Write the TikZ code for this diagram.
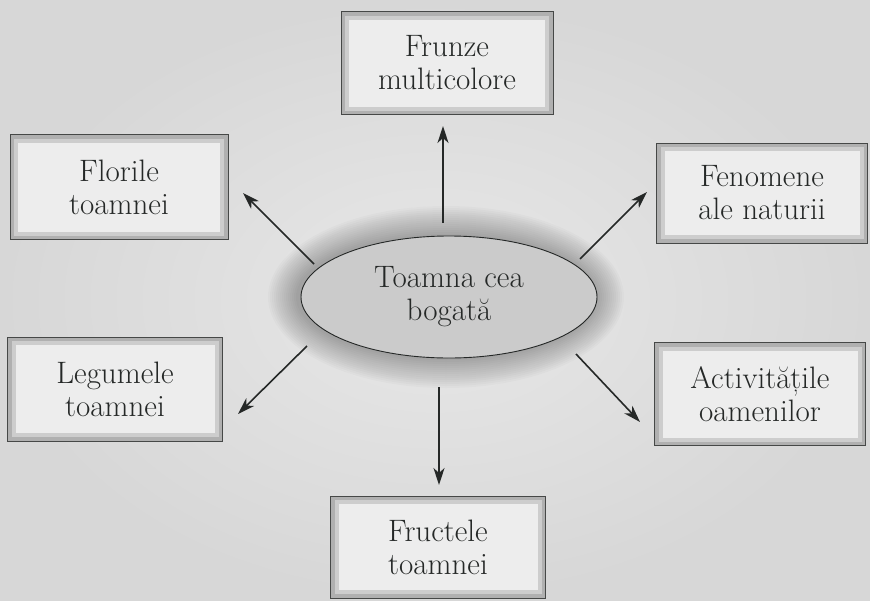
\documentclass[tikz,border=0pt]{standalone}
\usetikzlibrary{shapes.geometric,arrows.meta}
\definecolor{bgc}{HTML}{E0E0E0}
\definecolor{bandc}{HTML}{B0B0B0}
\definecolor{band2c}{HTML}{CDCDCD}
\definecolor{innerc}{HTML}{EDEDED}
\definecolor{ellc}{HTML}{CBCBCB}
\definecolor{inkc}{HTML}{252827}
\tikzset{
  lbl/.style={font=\fontsize{31}{33}\selectfont, text=inkc, align=center},
  topic/.style={lbl, rectangle, draw=inkc!85, line width=0.9pt, fill=bandc,
    minimum width=212pt, minimum height=103pt, inner sep=0pt,
    path picture={
      \fill[band2c] ([shift={(4pt,-4pt)}]path picture bounding box.north west)
      rectangle ([shift={(-4pt,4pt)}]path picture bounding box.south east);
      \fill[innerc] ([shift={(8pt,-8pt)}]path picture bounding box.north west)
      rectangle ([shift={(-8pt,8pt)}]path picture bounding box.south east);}},
  hub/.style={lbl, ellipse, draw=inkc, line width=0.9pt, fill=ellc,
    minimum width=296pt, minimum height=122pt, inner sep=0pt},
  arr/.style={draw=inkc, line width=1.6pt, -{Stealth[length=17pt,width=11pt,inset=5pt]}}
}
\begin{document}
\begin{tikzpicture}[x=1pt,y=-1pt]
\shade[inner color=bgc!75!white, outer color=bgc!96!black] (0,0) rectangle (870,600);
\useasboundingbox (0,0) rectangle (870,600);
% soft glow around hub
\foreach \g in {2,4,...,30}{
  \fill[black, opacity=0.018] (446,297) ellipse ({148+\g} and {61+\g});
}
\node[hub] (c) at (449,297) {Toamna cea\\bogată};
\node[topic] (f) at (447,63) {Frunze\\multicolore};
\node[topic, minimum width=218pt, minimum height=105pt] (fl) at (119,187) {Florile\\toamnei};
\node[topic, minimum width=211pt, minimum height=100pt] (fe) at (762,193) {Fenomene\\ale naturii};
\node[topic, minimum width=215pt, minimum height=104pt] (le) at (115,389) {Legumele\\toamnei};
\node[topic, minimum width=211pt] (ac) at (760,394) {Activitățile\\oamenilor};
\node[topic, minimum width=215pt, minimum height=102pt] (fr) at (438,547) {Fructele\\toamnei};
\draw[arr] ([shift={(-6,-74)}]c.center) -- ([shift={(-4,63)}]f.center);
\draw[arr] ([shift={(-135,-33)}]c.center) -- ([shift={(124,6)}]fl.center);
\draw[arr] ([shift={(131,-38)}]c.center) -- ([shift={(-115,-1)}]fe.center);
\draw[arr] ([shift={(-142,49)}]c.center) -- ([shift={(123,25)}]le.center);
\draw[arr] ([shift={(127,57)}]c.center) -- ([shift={(-120,28)}]ac.center);
\draw[arr] ([shift={(-10,90)}]c.center) -- ([shift={(1,-62)}]fr.center);
\end{tikzpicture}
\end{document}
